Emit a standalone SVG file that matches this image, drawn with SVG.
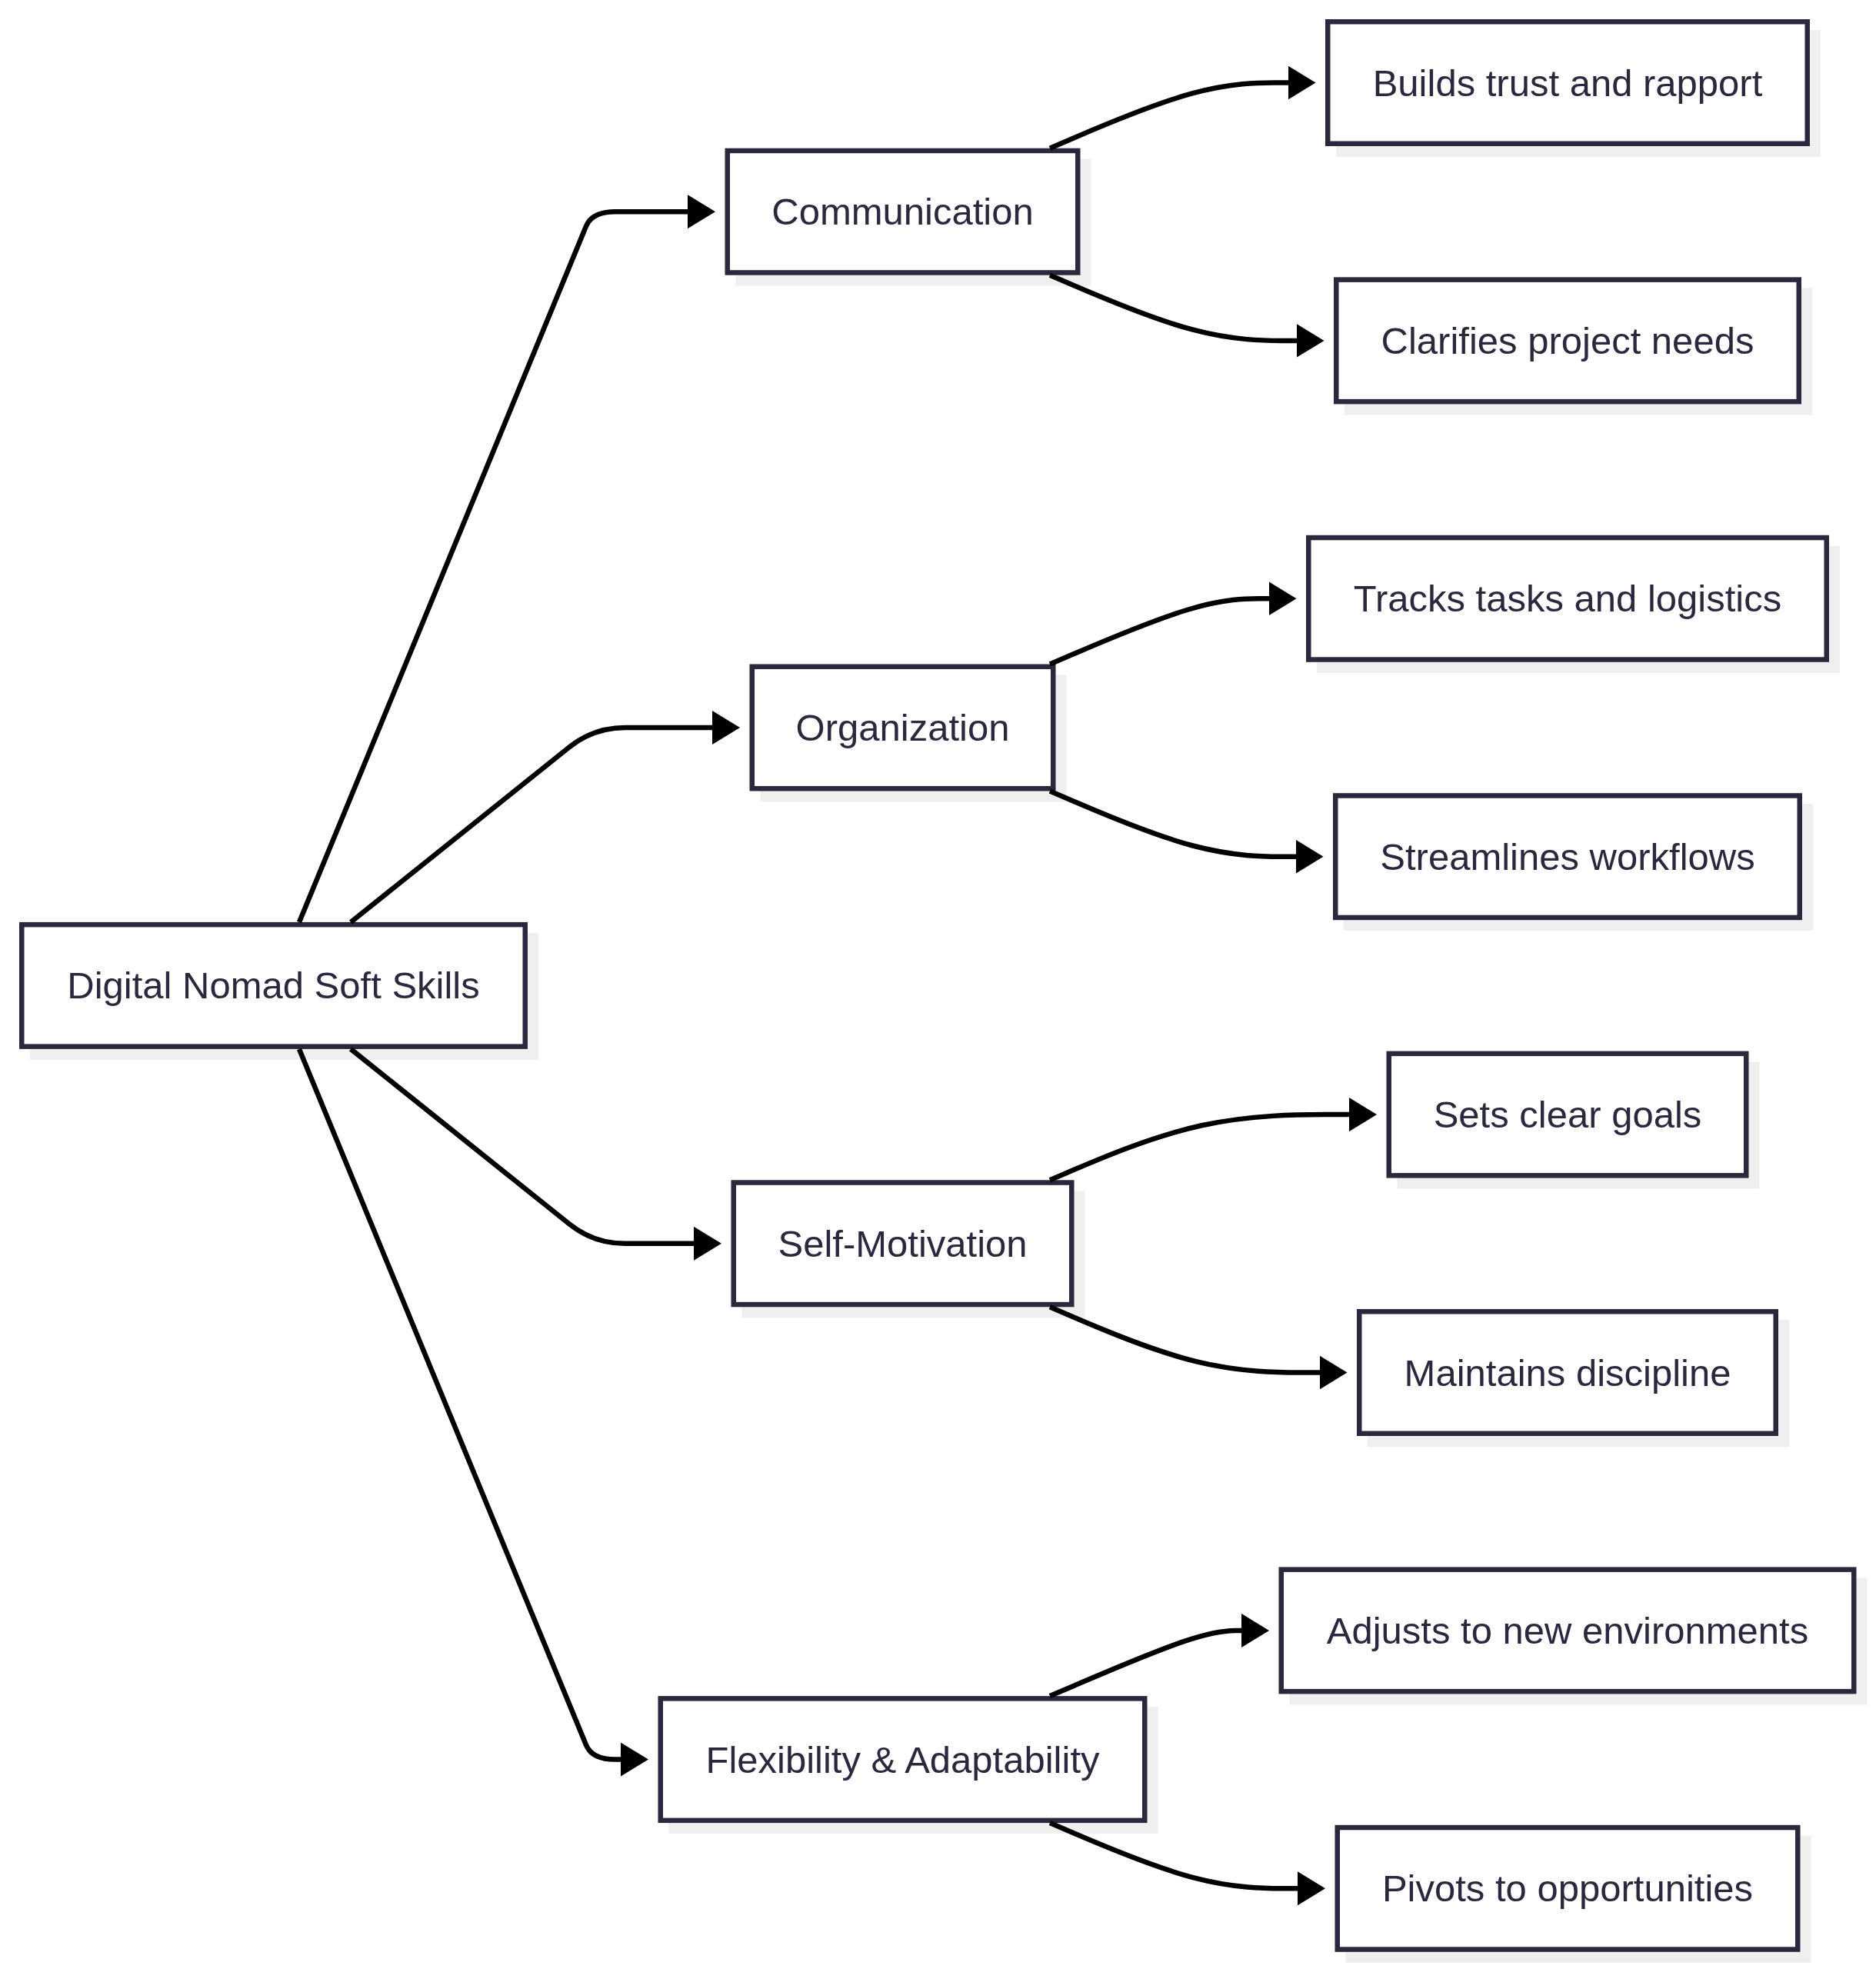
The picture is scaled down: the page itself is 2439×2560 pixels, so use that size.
<svg xmlns="http://www.w3.org/2000/svg" width="2439" height="2560" viewBox="0 0 2439 2560">
<defs>
<marker id="arrow" markerUnits="userSpaceOnUse" markerWidth="36" markerHeight="44" viewBox="0 0 36 44" refX="1" refY="22" orient="auto">
<path d="M0,0 L36,22 L0,44 Z" fill="#000"/>
</marker>
<style>
.shadow{fill:#efefef;}
.box{fill:#ffffff;stroke:#29283d;stroke-width:6.5;}
.lbl{font-family:"Liberation Sans",Arial,sans-serif;font-size:49px;fill:#29283d;text-anchor:middle;}
.edge{fill:none;stroke:#000;stroke-width:6.5;marker-end:url(#arrow);}
</style>
</defs>
<rect width="2439" height="2560" fill="#ffffff"/>
<g id="nodes">
<g id="root"><rect class="shadow" x="39" y="1212.9" width="661" height="165"/><rect class="box" x="28.25" y="1202.15" width="654.5" height="158.5"/><text class="lbl" x="355.5" y="1298.4">Digital Nomad Soft Skills</text></g>
<g id="communication"><rect class="shadow" x="956.5" y="206.7" width="462" height="165"/><rect class="box" x="945.75" y="195.95" width="455.5" height="158.5"/><text class="lbl" x="1173.5" y="292.2">Communication</text></g>
<g id="organization"><rect class="shadow" x="988.5" y="877.5" width="398" height="165"/><rect class="box" x="977.75" y="866.75" width="391.5" height="158.5"/><text class="lbl" x="1173.5" y="963">Organization</text></g>
<g id="selfmotivation"><rect class="shadow" x="964.5" y="1548.3" width="446" height="165"/><rect class="box" x="953.75" y="1537.55" width="439.5" height="158.5"/><text class="lbl" x="1173.5" y="1633.8">Self-Motivation</text></g>
<g id="flexibility"><rect class="shadow" x="869.5" y="2219.1" width="636" height="165"/><rect class="box" x="858.75" y="2208.35" width="629.5" height="158.5"/><text class="lbl" x="1173.5" y="2304.6">Flexibility &amp; Adaptability</text></g>
<g id="builds"><rect class="shadow" x="1737" y="39" width="630" height="165"/><rect class="box" x="1726.25" y="28.25" width="623.5" height="158.5"/><text class="lbl" x="2038" y="124.5">Builds trust and rapport</text></g>
<g id="clarifies"><rect class="shadow" x="1748" y="374.4" width="608" height="165"/><rect class="box" x="1737.25" y="363.65" width="601.5" height="158.5"/><text class="lbl" x="2038" y="459.9">Clarifies project needs</text></g>
<g id="tracks"><rect class="shadow" x="1712" y="709.8" width="680" height="165"/><rect class="box" x="1701.25" y="699.05" width="673.5" height="158.5"/><text class="lbl" x="2038" y="795.3">Tracks tasks and logistics</text></g>
<g id="streamlines"><rect class="shadow" x="1747" y="1045.2" width="610" height="165"/><rect class="box" x="1736.25" y="1034.45" width="603.5" height="158.5"/><text class="lbl" x="2038" y="1130.7">Streamlines workflows</text></g>
<g id="sets"><rect class="shadow" x="1816.5" y="1380.6" width="471" height="165"/><rect class="box" x="1805.75" y="1369.85" width="464.5" height="158.5"/><text class="lbl" x="2038" y="1466.1">Sets clear goals</text></g>
<g id="maintains"><rect class="shadow" x="1778" y="1716" width="548" height="165"/><rect class="box" x="1767.25" y="1705.25" width="541.5" height="158.5"/><text class="lbl" x="2038" y="1801.5">Maintains discipline</text></g>
<g id="adjusts"><rect class="shadow" x="1676.5" y="2051.4" width="751" height="165"/><rect class="box" x="1665.75" y="2040.65" width="744.5" height="158.5"/><text class="lbl" x="2038" y="2136.9">Adjusts to new environments</text></g>
<g id="pivots"><rect class="shadow" x="1749.5" y="2386.8" width="605" height="165"/><rect class="box" x="1738.75" y="2376.05" width="598.5" height="158.5"/><text class="lbl" x="2038" y="2472.3">Pivots to opportunities</text></g>
</g>
<g id="connectors">
<path class="edge" d="M389,1199 L762,294 Q769.8,275.2 800,275.2 L895,275.2"/>
<path class="edge" d="M456,1199 L740,971.5 Q771.8,946 813,946 L927,946"/>
<path class="edge" d="M456,1363.9 L740,1591.3 Q771.8,1616.8 813,1616.8 L903,1616.8"/>
<path class="edge" d="M389,1363.9 L762,2268.8 Q769.8,2287.6 800,2287.6 L808,2287.6"/>
<path class="edge" d="M1365,192.7 L1398.08,178.5 C1431.17,164.3 1497.33,135.9 1549.08,121.7 C1600.83,107.5 1638.17,107.5 1656.83,107.5 L1675.5,107.5"/>
<path class="edge" d="M1365,357.7 L1398.08,371.9 C1431.17,386.1 1497.33,414.5 1550.92,428.7 C1604.5,442.9 1645.5,442.9 1666,442.9 L1686.5,442.9"/>
<path class="edge" d="M1365,863.5 L1398.08,849.3 C1431.17,835.1 1497.33,806.7 1544.92,792.5 C1592.5,778.3 1621.5,778.3 1636,778.3 L1650.5,778.3"/>
<path class="edge" d="M1365,1028.5 L1398.08,1042.7 C1431.17,1056.9 1497.33,1085.3 1550.75,1099.5 C1604.17,1113.7 1644.83,1113.7 1665.17,1113.7 L1685.5,1113.7"/>
<path class="edge" d="M1365,1534.3 L1398.08,1520.1 C1431.17,1505.9 1497.33,1477.5 1562.33,1463.3 C1627.33,1449.1 1691.17,1449.1 1723.08,1449.1 L1755,1449.1"/>
<path class="edge" d="M1365,1699.3 L1398.08,1713.5 C1431.17,1727.7 1497.33,1756.1 1555.92,1770.3 C1614.5,1784.5 1665.5,1784.5 1691,1784.5 L1716.5,1784.5"/>
<path class="edge" d="M1365,2205.1 L1398.08,2190.9 C1431.17,2176.7 1497.33,2148.3 1539,2134.1 C1580.67,2119.9 1597.83,2119.9 1606.42,2119.9 L1615,2119.9"/>
<path class="edge" d="M1365,2370.1 L1398.08,2384.3 C1431.17,2398.5 1497.33,2426.9 1551.17,2441.1 C1605,2455.3 1646.5,2455.3 1667.25,2455.3 L1688,2455.3"/>
</g>
</svg>
